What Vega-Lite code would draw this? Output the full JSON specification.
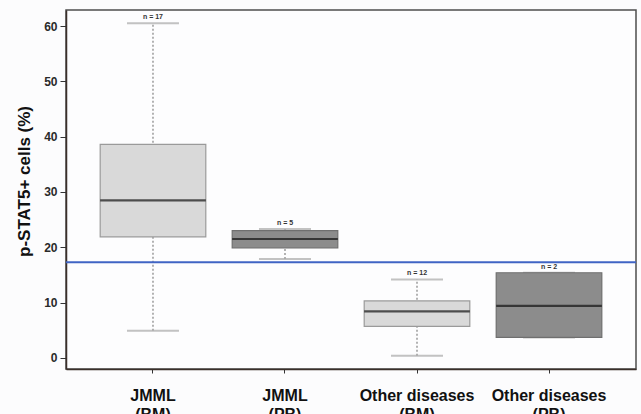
{
  "$schema": "https://vega.github.io/schema/vega-lite/v6.json",
  "autosize": "none",
  "width": 570,
  "height": 359,
  "padding": {"left": 66, "top": 10, "right": 5, "bottom": 45},
  "background": "#fcfcfd",
  "config": {
    "view": {"stroke": "#4d4d4d", "strokeWidth": 1.5, "fill": "#fdfdfe"},
    "font": "Liberation Sans"
  },
  "datasets": {
    "stats": [
      {"group": "JMML|(BM)", "sample": "BM", "min": 4.9, "q1": 21.9, "median": 28.5, "q3": 38.6, "max": 60.5, "n": "n = 17"},
      {"group": "JMML|(PB)", "sample": "PB", "min": 17.9, "q1": 19.9, "median": 21.5, "q3": 23.0, "max": 23.3, "n": "n = 5"},
      {"group": "Other diseases|(BM)", "sample": "BM", "min": 0.4, "q1": 5.7, "median": 8.4, "q3": 10.3, "max": 14.2, "n": "n = 12"},
      {"group": "Other diseases|(PB)", "sample": "PB", "min": 3.7, "q1": 3.7, "median": 9.4, "q3": 15.4, "max": 15.4, "n": "n = 2"}
    ],
    "threshold": [{"value": 17.3}]
  },
  "layer": [
    {
      "data": {"name": "stats"},
      "encoding": {
        "x": {
          "field": "group",
          "type": "nominal",
          "sort": null,
          "scale": {"paddingInner": 0.2, "paddingOuter": 0.259},
          "axis": {
            "title": null,
            "labelAngle": 0,
            "labelExpr": "split(datum.label, '|')",
            "labelFontSize": 16,
            "labelFontWeight": "bold",
            "labelColor": "#111111",
            "labelLineHeight": 19,
            "labelPadding": 14,
            "tickSize": 4,
            "tickColor": "#333333",
            "domainColor": "#3b2f2a",
            "domainWidth": 1.5
          }
        },
        "y": {
          "type": "quantitative",
          "scale": {"domain": [-2, 62.9], "nice": false, "zero": false},
          "axis": {
            "title": "p-STAT5+ cells (%)",
            "titleFontSize": 17,
            "titleFontWeight": "bold",
            "titleColor": "#111111",
            "titleX": -33,
            "titleY": 171,
            "titleAlign": "center",
            "titleBaseline": "bottom",
            "values": [0, 10, 20, 30, 40, 50, 60],
            "labelFontSize": 12,
            "labelFontWeight": "bold",
            "labelColor": "#2a2a2a",
            "labelPadding": 3,
            "tickSize": 6,
            "tickColor": "#333333",
            "grid": false,
            "domainColor": "#3b2f2a",
            "domainWidth": 1.5
          }
        }
      },
      "layer": [
        {
          "mark": {"type": "rule", "color": "#9a9a9a", "strokeWidth": 1.5, "strokeDash": [2, 2]},
          "encoding": {
            "y": {"field": "min", "type": "quantitative"},
            "y2": {"field": "max"}
          }
        },
        {
          "mark": {"type": "tick", "color": "#a8a8a8", "size": 52, "thickness": 2},
          "encoding": {
            "y": {"field": "max", "type": "quantitative"}
          }
        },
        {
          "mark": {"type": "tick", "color": "#a8a8a8", "size": 52, "thickness": 2},
          "encoding": {
            "y": {"field": "min", "type": "quantitative"}
          }
        },
        {
          "mark": {"type": "bar", "strokeWidth": 1.2},
          "encoding": {
            "y": {"field": "q1", "type": "quantitative"},
            "y2": {"field": "q3"},
            "fill": {"field": "sample", "type": "nominal", "scale": {"domain": ["BM", "PB"], "range": ["#d9d9d9", "#8c8c8c"]}, "legend": null},
            "stroke": {"field": "sample", "type": "nominal", "scale": {"domain": ["BM", "PB"], "range": ["#9a9a9a", "#6f6f6f"]}, "legend": null}
          }
        },
        {
          "mark": {"type": "tick", "color": "#111111", "size": 105.6, "thickness": 2.2},
          "encoding": {
            "y": {"field": "median", "type": "quantitative"}
          }
        },
        {
          "mark": {"type": "text", "fontSize": 7, "fontWeight": "bold", "color": "#333333", "baseline": "alphabetic", "dy": -4},
          "encoding": {
            "y": {"field": "max", "type": "quantitative"},
            "text": {"field": "n"}
          }
        }
      ]
    },
    {
      "data": {"name": "threshold"},
      "mark": {"type": "rule", "color": "#4064c4", "strokeWidth": 2},
      "encoding": {
        "y": {"datum": 17.3, "type": "quantitative"}
      }
    }
  ]
}
